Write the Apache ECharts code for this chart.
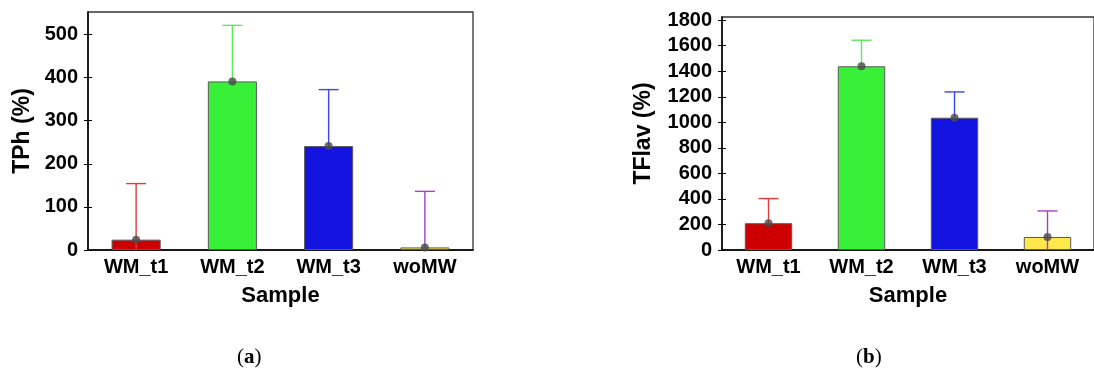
<!DOCTYPE html>
<html>
<head>
<meta charset="utf-8">
<script src="https://cdn.jsdelivr.net/npm/echarts@6/dist/echarts.min.js"></script>
<style>
  html, body { margin: 0; padding: 0; background: #fff; }
  #chart { width: 1094px; height: 374px; }
</style>
</head>
<body>
<div id="chart"></div>
<script>
// data
const samples = ['WM_t1', 'WM_t2', 'WM_t3', 'woMW']
const tphMean = [24, 391, 241, 6]
const tphSd = [130, 130, 131, 130]
const tflavMean = [210, 1439, 1036, 102]
const tflavSd = [193, 204, 202, 204]
const tphTicks = [0, 100, 200, 300, 400, 500]
const tflavTicks = [0, 200, 400, 600, 800, 1000, 1200, 1400, 1600, 1800]

// styling
const BAR_COLORS = ['#cc0000', '#38f038', '#1414e0', '#ffe84a']
const ERR_COLORS = ['#e03a3a', '#5ce85c', '#3a46ee', '#a640c0']
const FONT = '"Liberation Sans", Arial, sans-serif'

const chart = echarts.init(document.getElementById('chart'))

// upper error bar with cap; the lower half only shows where it runs below zero
function errorItem(params, api) {
  const x = api.value(0)
  const mid = api.coord([x, api.value(1)])
  const top = api.coord([x, api.value(2)])
  const low = api.value(3)
  const style = { stroke: api.visual('color'), lineWidth: 1.4 }
  const children = [
    { type: 'line', shape: { x1: top[0], y1: top[1], x2: mid[0], y2: mid[1] }, style },
    { type: 'line', shape: { x1: top[0] - 10, y1: top[1], x2: top[0] + 10, y2: top[1] }, style }
  ]
  if (low < 0) {
    const zero = api.coord([x, 0])
    children.push({ type: 'line', shape: { x1: mid[0], y1: mid[1], x2: zero[0], y2: zero[1] }, style })
  }
  return { type: 'group', children }
}

function xAxisFor(gridIndex) {
  return {
    type: 'category',
    gridIndex,
    data: samples,
    name: 'Sample',
    nameLocation: 'middle',
    nameGap: 35,
    nameTextStyle: { fontFamily: FONT, fontWeight: 'bold', fontSize: 22, color: '#000' },
    axisLine: { lineStyle: { color: '#000', width: 1.5 } },
    axisTick: { alignWithLabel: true, length: 5, lineStyle: { color: '#000' } },
    axisLabel: { fontFamily: FONT, fontWeight: 'bold', fontSize: 20, color: '#000', margin: 7, interval: 0 }
  }
}

function yAxisFor(gridIndex, max, ticks, name, nameGap) {
  return [{
    type: 'value',
    gridIndex,
    position: 'left',
    min: 0,
    max,
    name,
    nameLocation: 'middle',
    nameGap,
    nameTextStyle: { fontFamily: FONT, fontWeight: 'bold', fontSize: 23, color: '#000' },
    axisLine: { show: true, lineStyle: { color: '#000', width: 1.5 } },
    axisTick: { show: true, length: 4, customValues: ticks, lineStyle: { color: '#000' } },
    axisLabel: {
      customValues: ticks, formatter: v => String(v),
      fontFamily: FONT, fontWeight: 'bold', fontSize: 20, color: '#000', margin: 10
    },
    splitLine: { show: false }
  }, {
    // inner half of the crossing ticks
    type: 'value',
    gridIndex,
    position: 'left',
    min: 0,
    max,
    axisLine: { show: false },
    axisTick: { show: true, inside: true, length: 4, customValues: ticks, lineStyle: { color: '#000' } },
    axisLabel: { show: false },
    splitLine: { show: false }
  }]
}

function seriesFor(axisIndex, yIndex, means, sds) {
  return [{
    type: 'bar',
    xAxisIndex: axisIndex,
    yAxisIndex: yIndex,
    barWidth: '51%',
    data: means.map((v, i) => ({ value: v, itemStyle: { color: BAR_COLORS[i] } })),
    itemStyle: { borderColor: '#5a5a5a', borderWidth: 1 },
    silent: true
  }, {
    type: 'custom',
    xAxisIndex: axisIndex,
    yAxisIndex: yIndex,
    renderItem: errorItem,
    data: means.map((v, i) => ({
      value: [i, v, v + sds[i], v - sds[i]],
      itemStyle: { color: ERR_COLORS[i] }
    })),
    z: 5,
    silent: true
  }, {
    type: 'scatter',
    xAxisIndex: axisIndex,
    yAxisIndex: yIndex,
    symbolSize: 8,
    itemStyle: { color: '#4a4a4a' },
    data: means,
    z: 6,
    silent: true
  }]
}

const serif = '"Liberation Serif", serif'
const panelRich = {
  p: { fontFamily: serif, fontSize: 21, fill: '#000' },
  b: { fontFamily: serif, fontSize: 21, fontWeight: 'bold', fill: '#000' }
}

chart.setOption({
  animation: false,
  grid: [
    { left: 88, top: 12, width: 385, height: 238, show: true, borderColor: '#333', borderWidth: 1.3 },
    { left: 722, top: 17, width: 374, height: 233, show: true, borderColor: '#333', borderWidth: 1.3 }
  ],
  xAxis: [xAxisFor(0), xAxisFor(1)],
  yAxis: [
    ...yAxisFor(0, 552, tphTicks, 'TPh (%)', 54),
    ...yAxisFor(1, 1825, tflavTicks, 'TFlav (%)', 67)
  ],
  series: [
    ...seriesFor(0, 0, tphMean, tphSd),
    ...seriesFor(1, 2, tflavMean, tflavSd)
  ],
  graphic: [
    { type: 'text', left: 237, top: 347, style: { rich: panelRich, text: '{p|(}{b|a}{p|)}' } },
    { type: 'text', left: 856, top: 347, style: { rich: panelRich, text: '{p|(}{b|b}{p|)}' } }
  ]
})
</script>
</body>
</html>
